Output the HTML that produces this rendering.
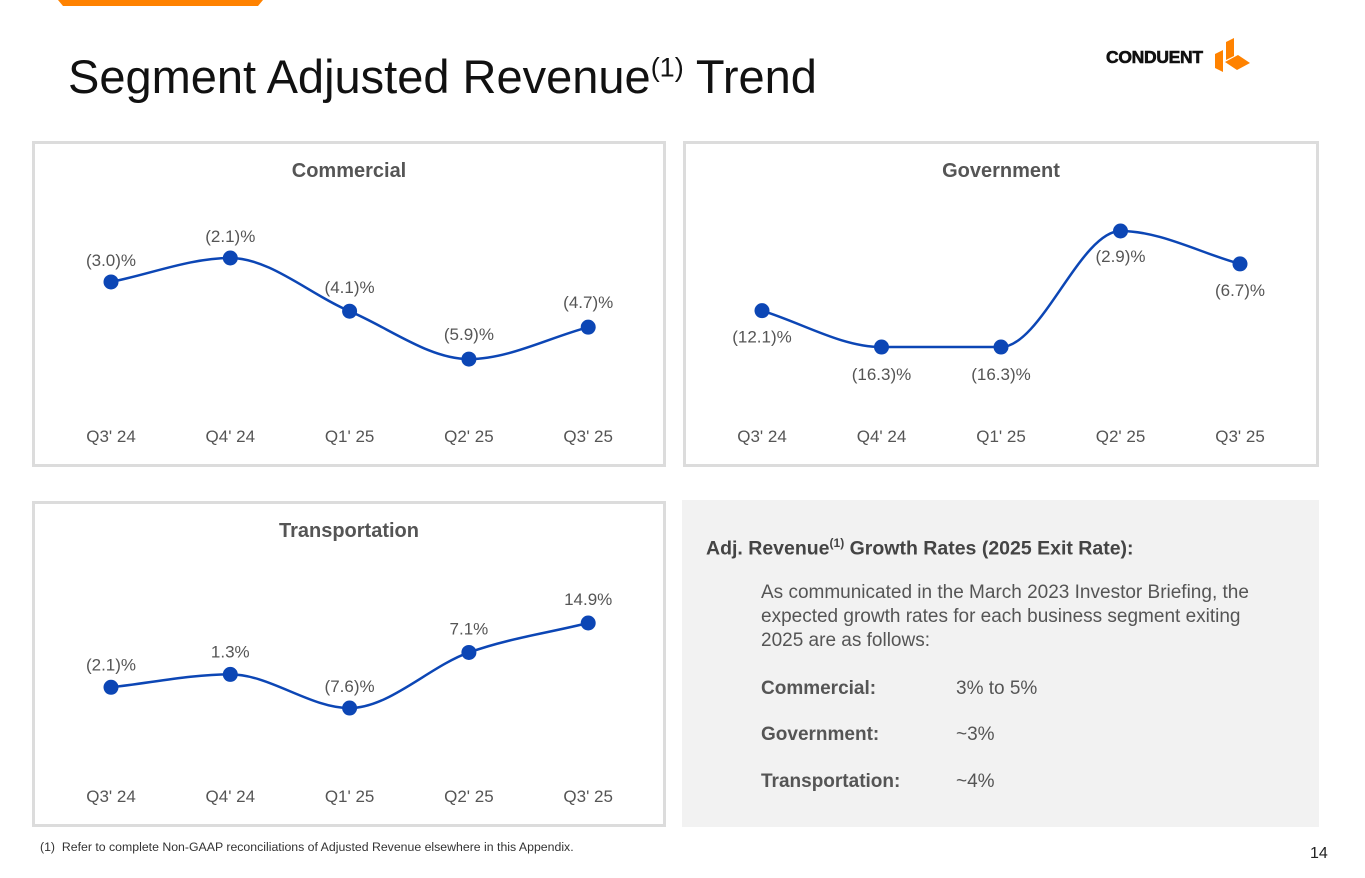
<!DOCTYPE html>
<html><head><meta charset="utf-8"><style>
body{margin:0;width:1365px;height:878px;background:#fff;font-family:"Liberation Sans",Arial,sans-serif;position:relative;overflow:hidden;color:#222}
.abs{position:absolute}
.panel{position:absolute;border:3px solid #dcdcdc;box-sizing:border-box;background:#fff}
.ptitle{position:absolute;left:0;right:0;text-align:center;font-weight:bold;font-size:20px;color:#555}
svg{position:absolute;left:0;top:0}
.info{position:absolute;left:682px;top:500px;width:637px;height:327px;background:#f2f2f2;font-size:19px;color:#555}
</style></head><body>
<svg width="1365" height="878">
<polygon points="58,0 263,0 258,6 63,6" fill="#ff8200"/>
</svg>
<div class="abs" style="left:68px;top:49px;font-size:47px;color:#111">Segment Adjusted Revenue<sup style="font-size:27px">(1)</sup> Trend</div>
<div class="abs" style="left:1106px;top:44px;width:150px;height:36px">
<span style="position:absolute;left:0;top:3px;font-weight:bold;font-size:17.5px;color:#111;letter-spacing:-0.3px;-webkit-text-stroke:0.6px #111">CONDUENT</span>
<svg width="44" height="40" style="left:104px;top:-10px"><polygon points="16,8 24,4 24,22 16,26" fill="#ff8200"/><polygon points="5,20 13,16 13,38 5,34" fill="#ff8200"/><polygon points="15,28 28,21 40,29 27,36" fill="#ff8200"/></svg>
</div>
<div class="panel" style="left:32px;top:141px;width:634px;height:326px"><div class="ptitle" style="top:16px">Commercial</div></div>
<div class="panel" style="left:683px;top:141px;width:636px;height:326px"><div class="ptitle" style="top:16px">Government</div></div>
<div class="panel" style="left:32px;top:501px;width:634px;height:326px"><div class="ptitle" style="top:16px">Transportation</div></div>
<div class="info">
<div class="abs" style="left:24px;top:36px;font-weight:bold;color:#444;font-size:19.5px">Adj. Revenue<sup style="font-size:12px">(1)</sup> Growth Rates (2025 Exit Rate):</div>
<div class="abs" style="left:79px;top:81px;width:515px;line-height:24px">As communicated in the March 2023 Investor Briefing, the expected growth rates for each business segment exiting 2025 are as follows:</div>
<div class="abs" style="left:79px;top:178px;font-weight:bold">Commercial:</div><div class="abs" style="left:274px;top:178px">3% to 5%</div>
<div class="abs" style="left:79px;top:224px;font-weight:bold">Government:</div><div class="abs" style="left:274px;top:224px">~3%</div>
<div class="abs" style="left:79px;top:271px;font-weight:bold">Transportation:</div><div class="abs" style="left:274px;top:271px">~4%</div>
</div>
<div class="abs" style="left:40px;top:840px;font-size:12.3px;color:#333">(1)&nbsp; Refer to complete Non-GAAP reconciliations of Adjusted Revenue elsewhere in this Appendix.</div>
<div class="abs" style="left:1310px;top:845px;font-size:16px;color:#222">14</div>
<svg id="charts" width="1365" height="878"></svg>
<script>
const categories=["Q3' 24","Q4' 24","Q1' 25","Q2' 25","Q3' 25"];
const commercialValues=[-3.0,-2.1,-4.1,-5.9,-4.7];
const commercialLabels=["(3.0)%","(2.1)%","(4.1)%","(5.9)%","(4.7)%"];
const governmentValues=[-12.1,-16.3,-16.3,-2.9,-6.7];
const governmentLabels=["(12.1)%","(16.3)%","(16.3)%","(2.9)%","(6.7)%"];
const transportationValues=[-2.1,1.3,-7.6,7.1,14.9];
const transportationLabels=["(2.1)%","1.3%","(7.6)%","7.1%","14.9%"];
const NS="http://www.w3.org/2000/svg";
const svg=document.getElementById('charts');
function mk(t,a){const e=document.createElementNS(NS,t);for(const k in a)e.setAttribute(k,a[k]);svg.appendChild(e);return e;}
function monoPath(p){const n=p.length,d=[],m=[];for(let i=0;i<n-1;i++)d.push((p[i+1][1]-p[i][1])/(p[i+1][0]-p[i][0]));
m[0]=d[0];m[n-1]=d[n-2];for(let i=1;i<n-1;i++)m[i]=(d[i-1]*d[i]<=0)?0:(d[i-1]+d[i])/2;
for(let i=0;i<n-1;i++){if(d[i]===0){m[i]=0;m[i+1]=0;}}
let s=`M${p[0][0]},${p[0][1]}`;for(let i=0;i<n-1;i++){const h=(p[i+1][0]-p[i][0])/3;s+=` C${p[i][0]+h},${p[i][1]+m[i]*h} ${p[i+1][0]-h},${p[i+1][1]-m[i+1]*h} ${p[i+1][0]},${p[i+1][1]}`;}return s;}
function chart(name,x0,dx,vals,labels,vTop,yTop,pxPer,labOff,axisY){
 const xs=i=>x0+i*dx, ys=v=>yTop+(vTop-v)*pxPer;
 const pts=vals.map((v,i)=>[xs(i),ys(v)]);
 const path=mk('path',{d:monoPath(pts),fill:'none',stroke:'#0c46b5','stroke-width':2.5});
 
 
 pts.forEach((p,i)=>{
  const c=mk('circle',{cx:p[0],cy:p[1],r:7.5,fill:'#0c46b5'});
  
  
  const t=mk('text',{x:p[0],y:p[1]+labOff[i],'text-anchor':'middle','font-size':17,fill:'#555','font-family':'Liberation Sans, sans-serif'});
  t.textContent=labels[i];
  
  
  const a=mk('text',{x:p[0],y:axisY,'text-anchor':'middle','font-size':17,fill:'#555','font-family':'Liberation Sans, sans-serif'});
  a.textContent=categories[i];
  
  
 });
}
chart('commercial',111,119.3,commercialValues,commercialLabels,-2.1,258,26.6,[-16,-16,-18,-19,-19],442);
chart('government',762,119.5,governmentValues,governmentLabels,-2.9,231,8.66,[32,33,33,31,32],442);
chart('transportation',111,119.3,transportationValues,transportationLabels,14.9,623,3.78,[-17,-17,-16,-18,-18],802);
</script>
</body></html>
